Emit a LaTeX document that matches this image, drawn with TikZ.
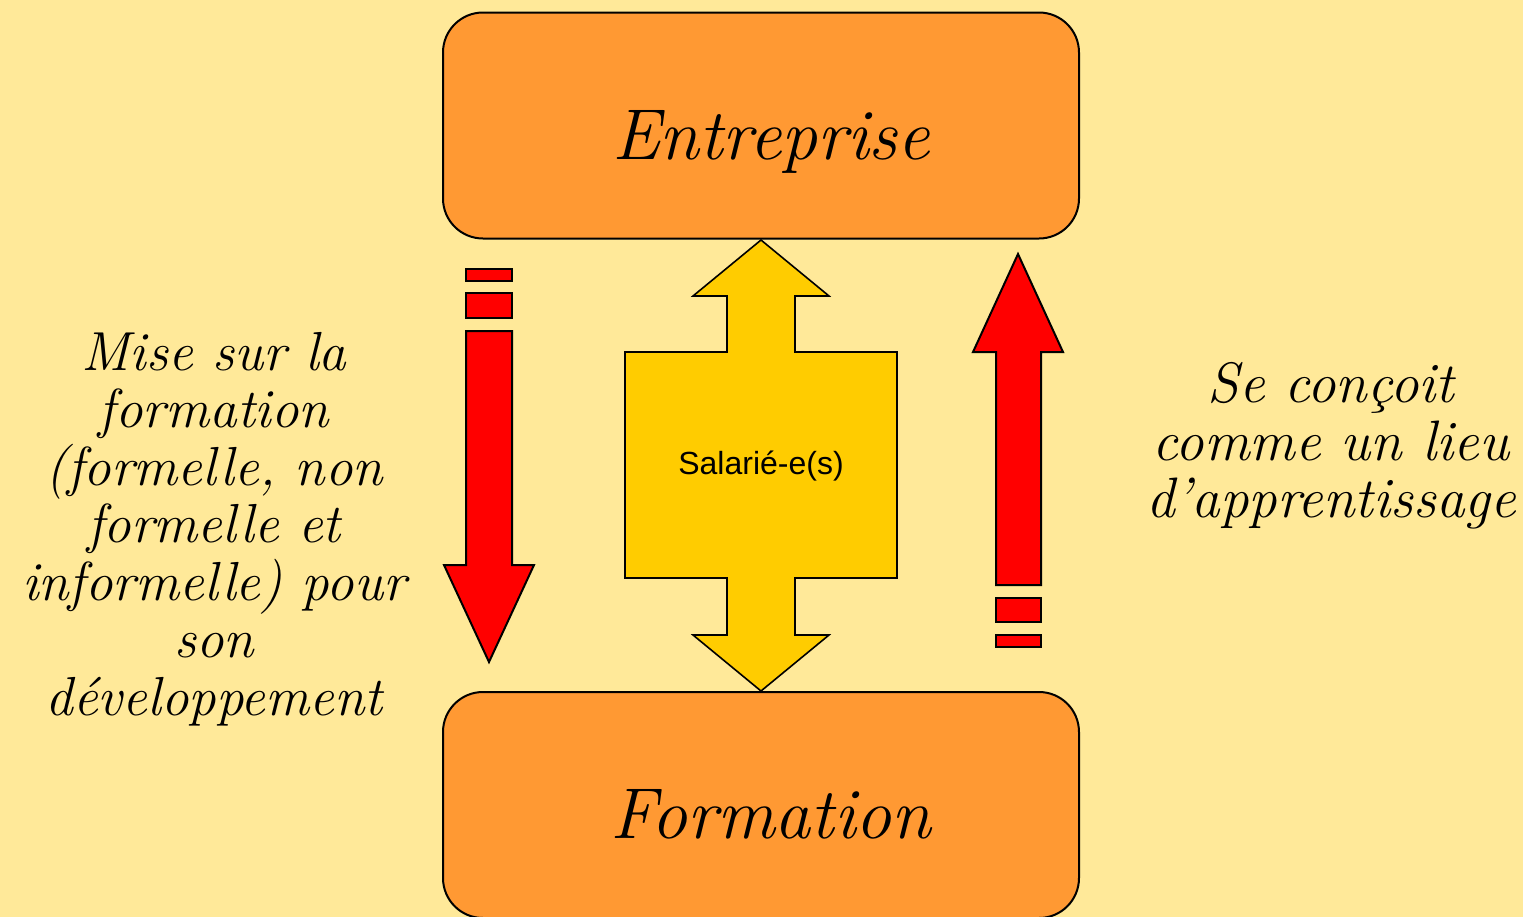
\documentclass[tikz,border=0pt]{standalone}
\usepackage{fontspec}
\newfontfamily\arialfont{Liberation Sans}
\usetikzlibrary{calc,positioning}
\definecolor{bgyellow}{HTML}{FFE999}
\definecolor{boxorange}{HTML}{FF9933}
\definecolor{arrowyellow}{HTML}{FFCC00}

\begin{document}
\begin{tikzpicture}[x=0.5pt, y=-0.5pt,
  box/.style={draw=black, line width=1pt, fill=boxorange, rounded corners=20pt,
    minimum width=318pt, minimum height=113pt},
  title/.style={font=\fontsize{36}{40}\selectfont\itshape},
  side/.style={align=center, font=\fontsize{27.5}{28.75}\selectfont\itshape},
  redshape/.style={draw=black, line width=1pt, fill=red}]
  % background
  \fill[bgyellow] (0,0) rectangle (1523,917);
  \useasboundingbox (0,0) rectangle (1523,917);

  % boxes
  \node[box](ent) at (761,125.5){};
  \node[title] at ([xshift=5pt, yshift=-8pt]ent.center){Entreprise};
  \node[box](form) at (761,805){};
  \node[title] at ([xshift=5pt, yshift=-4.5pt]form.center){Formation};

  % double arrow
  \draw[line width=0.8pt, fill=arrowyellow]
  (761,240) -- (829,296) -- (795,296) -- (795,352) -- (897,352) -- (897,578)
  -- (795,578) -- (795,635) -- (829,635) -- (761,691) -- (693,635) -- (727,635)
  -- (727,578) -- (625,578) -- (625,352) -- (727,352) -- (727,296) -- (693,296) -- cycle;
  \node[font=\arialfont\fontsize{16}{19}\selectfont](sal) at (761,466){Salarié-e(s)};

  % left arrow
  \draw[redshape] (466,269) rectangle (512,281);
  \draw[redshape] (466,293) rectangle (512,318);
  \draw[redshape] (466,331) -- (512,331) -- (512,565) -- (534,565) -- (489,662)
  -- (444,565) -- (466,565) -- cycle;

  % right arrow
  \draw[redshape] (1018,254) -- (1063,352) -- (1041,352) -- (1041,585) -- (996,585)
  -- (996,352) -- (973,352) -- cycle;
  \draw[redshape] (996,598) rectangle (1041,622);
  \draw[redshape] (996,635) rectangle (1041,647);

  % texts
  \node[side](mise) at (214,529){Mise sur la\\formation\\(formelle, non\\formelle et\\informelle) pour\\son\\développement};
  \node[side, font=\fontsize{28.5}{28.75}\selectfont\itshape](lieu) at (1331,446){Se conçoit\\comme un lieu\\d’apprentissage};
\end{tikzpicture}
\end{document}
